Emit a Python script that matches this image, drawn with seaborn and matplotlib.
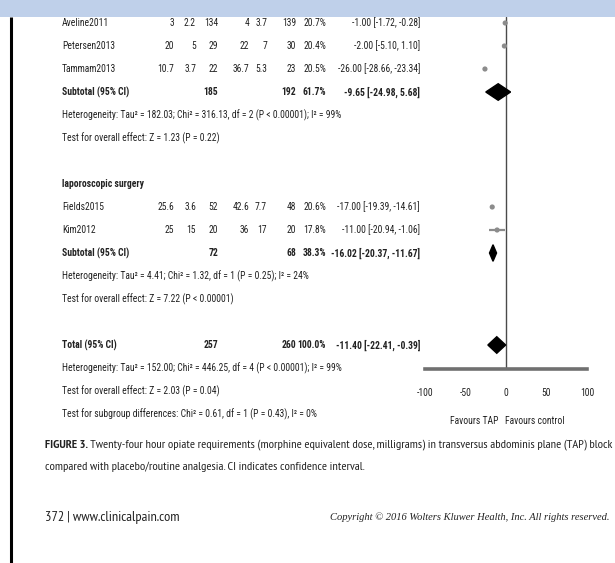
import numpy as np
import pandas as pd
import seaborn as sns
import matplotlib.pyplot as plt
from matplotlib.patches import Polygon, Rectangle

# open surgery studies
open_names = ['Aveline2011', 'Petersen2013', 'Tammam2013']
open_mean_tap = [3, 20, 10.7]
open_sd_tap = [2.2, 5, 3.7]
open_n_tap = [134, 29, 22]
open_mean_ctl = [4, 22, 36.7]
open_sd_ctl = [3.7, 7, 5.3]
open_n_ctl = [139, 30, 23]
open_weight = [20.7, 20.4, 20.5]
open_md = [-1.00, -2.00, -26.00]
open_lo = [-1.72, -5.10, -28.66]
open_hi = [-0.28, 1.10, -23.34]

# laparoscopic studies
lap_names = ['Fields2015', 'Kim2012']
lap_mean_tap = [25.6, 25]
lap_sd_tap = [3.6, 15]
lap_n_tap = [52, 20]
lap_mean_ctl = [42.6, 36]
lap_sd_ctl = [7.7, 17]
lap_n_ctl = [48, 20]
lap_weight = [20.6, 17.8]
lap_md = [-17.00, -11.00]
lap_lo = [-19.39, -20.94]
lap_hi = [-14.61, -1.06]

# pooled results: open subtotal, lap subtotal, total
pooled_names = ['Subtotal (95% CI)', 'Subtotal (95% CI)', 'Total (95% CI)']
pooled_n_tap = [185, 72, 257]
pooled_n_ctl = [192, 68, 260]
pooled_weight = [61.7, 38.3, 100.0]
pooled_md = [-9.65, -16.02, -11.40]
pooled_lo = [-24.98, -20.37, -22.41]
pooled_hi = [5.68, -11.67, -0.39]

open_stats = ['Heterogeneity: Tau\u00b2 = 182.03; Chi\u00b2 = 316.13, df = 2 (P < 0.00001); I\u00b2 = 99%',
              'Test for overall effect: Z = 1.23 (P = 0.22)']
lap_stats = ['Heterogeneity: Tau\u00b2 = 4.41; Chi\u00b2 = 1.32, df = 1 (P = 0.25); I\u00b2 = 24%',
             'Test for overall effect: Z = 7.22 (P < 0.00001)']
total_stats = ['Heterogeneity: Tau\u00b2 = 152.00; Chi\u00b2 = 446.25, df = 4 (P < 0.00001); I\u00b2 = 99%',
               'Test for overall effect: Z = 2.03 (P = 0.04)',
               'Test for subgroup differences: Chi\u00b2 = 0.61, df = 1 (P = 0.43), I\u00b2 = 0%']
lap_header = 'laporoscopic surgery'

tick_values = [-100, -50, 0, 50, 100]
tick_labels = ['-100', '-50', '0', '50', '100']
favours = ['Favours TAP', 'Favours control']

caption_bold = 'FIGURE 3.'
caption_1 = ('Twenty-four hour opiate requirements (morphine equivalent dose, milligrams) '
             'in transversus abdominis plane (TAP) block')
caption_2 = 'compared with placebo/routine analgesia. CI indicates confidence interval.'
footer_left = '372 | www.clinicalpain.com'
footer_right = 'Copyright \u00a9 2016 Wolters Kluwer Health, Inc. All rights reserved.'

sns.set_style('white')
TABLE_FONT = ['Roboto Condensed', 'DejaVu Sans']
CAP_FONT = ['PT Sans Narrow', 'DejaVu Sans']
SERIF_FONT = ['Liberation Serif', 'DejaVu Serif']
plt.rcParams['font.family'] = TABLE_FONT
plt.rcParams['axes.unicode_minus'] = False

W, H = 615, 563
ROW0, STEP = 23, 23
X0, X1 = 425, 587
TOP, BOT = 17, 369
# right edges of the number columns
COLS = [174, 196, 218, 249, 267, 296, 326, 420]
NAME_X = 62
TEXT_COLOR = '#222222'


def fmt(v):
    return '%g' % v


def row_y(r):
    return ROW0 + STEP * r


def fit_size(text, target, **kw):
    t = page.text(0, 0, text, fontsize=10, **kw)
    w = t.get_window_extent(renderer=fig.canvas.get_renderer()).width
    t.remove()
    return 10 * target / w


def study_table(names, m1, s1, n1, m2, s2, n2, w, md, lo, hi, first_row):
    return pd.DataFrame({'name': names, 'm1': m1, 's1': s1, 'n1': n1, 'm2': m2, 's2': s2, 'n2': n2,
                         'w': w, 'md': md, 'lo': lo, 'hi': hi,
                         'row': np.arange(len(names)) + first_row})


df_studies = pd.concat([
    study_table(open_names, open_mean_tap, open_sd_tap, open_n_tap, open_mean_ctl, open_sd_ctl,
                open_n_ctl, open_weight, open_md, open_lo, open_hi, 0),
    study_table(lap_names, lap_mean_tap, lap_sd_tap, lap_n_tap, lap_mean_ctl, lap_sd_ctl,
                lap_n_ctl, lap_weight, lap_md, lap_lo, lap_hi, 8),
]).reset_index(drop=True)

df_pooled = pd.DataFrame({'name': pooled_names, 'n1': pooled_n_tap, 'n2': pooled_n_ctl,
                          'w': pooled_weight, 'md': pooled_md, 'lo': pooled_lo, 'hi': pooled_hi,
                          'row': [3, 10, 14]})

fig = plt.figure(figsize=(W / 100, H / 100), dpi=100)
page = fig.add_axes([0, 0, 1, 1], zorder=0)
page.set_xlim(0, W)
page.set_ylim(H, 0)
page.axis('off')

FS = fit_size('-26.00 [-28.66, -23.34]', 82)

page.add_patch(Rectangle((0, 0), W, 17, color='#bfd0ea', lw=0))
page.plot([11, 11], [17, H], color='black', lw=2.2, solid_capstyle='butt')

# table text
for _, s in df_studies.iterrows():
    y = row_y(s['row'])
    page.text(NAME_X, y, s['name'], va='center', fontsize=FS, color=TEXT_COLOR)
    vals = [fmt(s['m1']), fmt(s['s1']), fmt(s['n1']), fmt(s['m2']), fmt(s['s2']), fmt(s['n2']),
            '%.1f%%' % s['w'], '%.2f [%.2f, %.2f]' % (s['md'], s['lo'], s['hi'])]
    for x, v in zip(COLS, vals):
        page.text(x, y, v, ha='right', va='center', fontsize=FS, color=TEXT_COLOR)

for _, s in df_pooled.iterrows():
    y = row_y(s['row'])
    page.text(NAME_X, y, s['name'], va='center', fontsize=FS, fontweight='bold', color=TEXT_COLOR)
    vals = {2: fmt(s['n1']), 5: fmt(s['n2']), 6: '%.1f%%' % s['w'],
            7: '%.2f [%.2f, %.2f]' % (s['md'], s['lo'], s['hi'])}
    for i, v in vals.items():
        page.text(COLS[i], y, v, ha='right', va='center', fontsize=FS, fontweight='bold',
                  color=TEXT_COLOR)

for first, lines in [(4, open_stats), (11, lap_stats), (15, total_stats)]:
    for i, line in enumerate(lines):
        page.text(NAME_X, row_y(first + i), line, va='center', fontsize=FS, color=TEXT_COLOR)
page.text(NAME_X, row_y(7), lap_header, va='center', fontsize=FS, fontweight='bold', color=TEXT_COLOR)

# forest plot
ax = fig.add_axes([X0 / W, 1 - BOT / H, (X1 - X0) / W, (BOT - TOP) / H], zorder=1)
ax.patch.set_alpha(0)
ax.set_xlim(-100, 100)
ax.set_ylim((BOT - ROW0) / STEP, (TOP - ROW0) / STEP)
ax.axvline(0, color='#4a4a4a', lw=1, zorder=1)
ax.hlines(df_studies['row'], df_studies['lo'], df_studies['hi'], color='#8c8c8c', lw=1.6, zorder=2)
sns.scatterplot(data=df_studies, x='md', y='row', marker='o', s=14, color='#8c8c8c',
                edgecolor='none', legend=False, ax=ax, zorder=3)
for _, s in df_pooled.iterrows():
    r = s['row']
    ax.add_patch(Polygon([[s['lo'], r], [s['md'], r - 0.36], [s['hi'], r], [s['md'], r + 0.36]],
                         closed=True, color='black', zorder=4))

for side in ['top', 'left', 'right']:
    ax.spines[side].set_visible(False)
ax.spines['bottom'].set_linewidth(2.6)
ax.spines['bottom'].set_color('#707070')
ax.set_xticks(tick_values)
ax.set_xticklabels(tick_labels, fontsize=FS, color=TEXT_COLOR)
ax.tick_params(axis='x', direction='inout', length=10, width=1.1, color='#555555', pad=9)
ax.set_yticks([])
ax.set_xlabel('')
ax.set_ylabel('')

page.text(499, 421, favours[0], ha='right', va='center', fontsize=FS, color=TEXT_COLOR)
page.text(505, 421, favours[1], ha='left', va='center', fontsize=FS, color=TEXT_COLOR)

# caption and footer
cap_fs = fit_size(caption_bold + ' ' + caption_1, 566, family=CAP_FONT)
cap = page.text(45, 445, caption_bold, va='center', fontsize=cap_fs, fontweight='bold',
                family=CAP_FONT, color=TEXT_COLOR)
page.annotate(' ' + caption_1, xy=(1, 0), xycoords=cap, va='bottom', ha='left',
              fontsize=cap_fs, family=CAP_FONT, color=TEXT_COLOR)
page.text(45, 467, caption_2, va='center', fontsize=cap_fs, family=CAP_FONT, color=TEXT_COLOR)
page.text(45, 517, footer_left, va='center', family=CAP_FONT, color=TEXT_COLOR,
          fontsize=fit_size(footer_left, 135, family=CAP_FONT))
page.text(610, 517, footer_right, ha='right', va='center', family=SERIF_FONT, style='italic',
          color=TEXT_COLOR, fontsize=fit_size(footer_right, 282, family=SERIF_FONT, style='italic'))

plt.savefig('out.png', dpi=100)
plt.close()
